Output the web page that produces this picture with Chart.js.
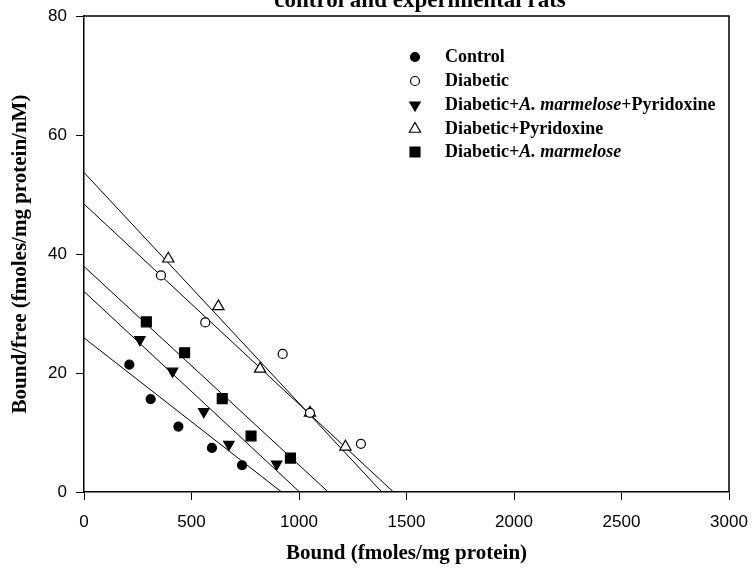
<!DOCTYPE html>
<html>
<head>
<meta charset="utf-8">
<title>Scatchard plot</title>
<script src="https://cdn.jsdelivr.net/npm/chart.js@4.4.1/dist/chart.umd.min.js"></script>
<style>
    html, body { margin: 0; padding: 0; background: #fff; }
    #wrap { width: 753px; height: 573px; }
</style>
</head>
<body>
<div id="wrap"><canvas id="scatchard" width="753" height="573"></canvas></div>
<script>
// Bound (fmoles/mg protein) and bound/free values per group
const controlX = [211, 310, 439, 595, 735];
const controlY = [21.4, 15.6, 11.0, 7.4, 4.5];
const diabeticX = [358, 564, 924, 1051, 1288];
const diabeticY = [36.4, 28.5, 23.2, 13.3, 8.1];
const amPyrX = [260, 412, 557, 674, 896];
const amPyrY = [25.6, 20.3, 13.5, 8.0, 4.7];
const pyrX = [392, 625, 819, 1051, 1216];
const pyrY = [39.2, 31.2, 20.7, 13.3, 7.6];
const amX = [290, 468, 643, 777, 960];
const amY = [28.6, 23.4, 15.7, 9.4, 5.7];

// Regression lines: [y-intercept (Bmax/Kd), x-intercept (Bmax)]
const controlFit = [25.9, 919];
const diabeticFit = [48.4, 1439];
const amPyrFit = [33.7, 1003];
const pyrFit = [53.7, 1385];
const amFit = [37.9, 1136];

const xTicks = [0, 500, 1000, 1500, 2000, 2500, 3000];
const yTicks = [0, 20, 40, 60, 80];

const serif = '"Liberation Serif", "Times New Roman", serif';
const sans = '"Liberation Sans", Arial, sans-serif';

function toPoints(xs, ys) {
    return xs.map((x, i) => ({ x: x, y: ys[i] }));
}

function fitLine(fit) {
    return {
        data: [{ x: 0, y: fit[0] }, { x: fit[1], y: 0 }],
        showLine: true,
        borderColor: '#000',
        borderWidth: 1,
        pointRadius: 0,
        order: 1
    };
}

function markers(label, xs, ys, style, radius, filled, rotation) {
    return {
        label: label,
        data: toPoints(xs, ys),
        pointStyle: style,
        pointRadius: radius,
        pointRotation: rotation || 0,
        pointBackgroundColor: filled ? '#000' : '#fff',
        pointBorderColor: '#000',
        pointBorderWidth: 1.2,
        showLine: false,
        order: 0
    };
}

const markerSets = [
    markers('Control', controlX, controlY, 'circle', 4.5, true),
    markers('Diabetic', diabeticX, diabeticY, 'circle', 4.5, false),
    markers('Diabetic+A. marmelose+Pyridoxine', amPyrX, amPyrY, 'triangle', 6, true, 180),
    markers('Diabetic+Pyridoxine', pyrX, pyrY, 'triangle', 6.5, false),
    markers('Diabetic+A. marmelose', amX, amY, 'rect', 7, true)
];

// Legend text split into plain / italic runs
const legendRuns = [
    [['Control', false]],
    [['Diabetic', false]],
    [['Diabetic+', false], ['A. marmelose', true], ['+Pyridoxine', false]],
    [['Diabetic+Pyridoxine', false]],
    [['Diabetic+', false], ['A. marmelose', true]]
];

// Frame on top/right, title line and the legend block
const decorations = {
    id: 'decorations',
    afterDraw(chart) {
        const ctx = chart.ctx;
        const a = chart.chartArea;
        ctx.save();
        ctx.strokeStyle = '#000';
        ctx.lineWidth = 1.5;
        ctx.beginPath();
        ctx.moveTo(a.left, a.top);
        ctx.lineTo(a.right, a.top);
        ctx.lineTo(a.right, a.bottom);
        ctx.stroke();

        ctx.fillStyle = '#000';
        ctx.font = 'bold 23px ' + serif;
        ctx.textAlign = 'center';
        ctx.textBaseline = 'alphabetic';
        ctx.fillText('control and experimental rats', 420, 7);

        ctx.textAlign = 'left';
        ctx.textBaseline = 'middle';
        const rowY = [57, 81, 105, 129, 152];
        markerSets.forEach((ds, i) => {
            const y = rowY[i];
            ctx.fillStyle = ds.pointBackgroundColor;
            ctx.strokeStyle = '#000';
            ctx.lineWidth = ds.pointBorderWidth;
            Chart.helpers.drawPoint(ctx, {
                pointStyle: ds.pointStyle,
                radius: ds.pointRadius,
                rotation: ds.pointRotation,
                borderWidth: ds.pointBorderWidth
            }, 415, y);
            let x = 445;
            ctx.fillStyle = '#000';
            legendRuns[i].forEach(run => {
                ctx.font = (run[1] ? 'italic ' : '') + 'bold 18px ' + serif;
                ctx.fillText(run[0], x, y);
                x += ctx.measureText(run[0]).width;
            });
        });
        ctx.restore();
    }
};

new Chart(document.getElementById('scatchard'), {
    type: 'scatter',
    data: {
        datasets: markerSets.concat([
            fitLine(controlFit),
            fitLine(diabeticFit),
            fitLine(amPyrFit),
            fitLine(pyrFit),
            fitLine(amFit)
        ])
    },
    options: {
        responsive: false,
        animation: false,
        devicePixelRatio: 1,
        layout: { padding: { top: 16, right: 24, left: 0, bottom: 0 } },
        plugins: {
            legend: { display: false },
            tooltip: { enabled: false }
        },
        scales: {
            x: {
                type: 'linear',
                min: 0,
                max: 3000,
                afterFit(scale) {
                    scale.height = 81;
                    scale.paddingLeft = 0;
                    scale.paddingRight = 0;
                },
                afterBuildTicks(scale) { scale.ticks = xTicks.map(v => ({ value: v })); },
                border: { display: true, color: '#000', width: 1.5 },
                grid: { drawOnChartArea: false, drawTicks: true, tickLength: 8, color: '#000', tickWidth: 1 },
                ticks: {
                    color: '#000',
                    padding: 12,
                    font: { family: sans, size: 17 },
                    maxRotation: 0,
                    callback: v => String(v)
                },
                title: {
                    display: true,
                    text: 'Bound (fmoles/mg protein)',
                    color: '#000',
                    font: { family: serif, size: 21, weight: 'bold' },
                    padding: { top: 0, bottom: 7 }
                }
            },
            y: {
                type: 'linear',
                min: 0,
                max: 80,
                afterFit(scale) {
                    scale.width = 84;
                    scale.paddingTop = 0;
                    scale.paddingBottom = 0;
                },
                afterBuildTicks(scale) { scale.ticks = yTicks.map(v => ({ value: v })); },
                border: { display: true, color: '#000', width: 1.5 },
                grid: { drawOnChartArea: false, drawTicks: true, tickLength: 8, color: '#000', tickWidth: 1 },
                ticks: {
                    color: '#000',
                    padding: 9,
                    font: { family: sans, size: 17 },
                    callback: v => String(v)
                },
                title: {
                    display: true,
                    text: 'Bound/free (fmoles/mg protein/nM)',
                    color: '#000',
                    font: { family: serif, size: 21, weight: 'bold' },
                    padding: { top: 8, bottom: 0 }
                }
            }
        }
    },
    plugins: [decorations]
});
</script>
</body>
</html>
